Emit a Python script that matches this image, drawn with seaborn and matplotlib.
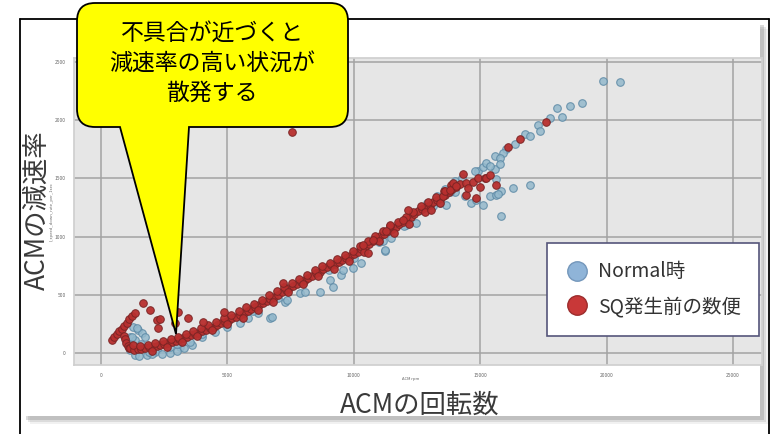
import numpy as np
import pandas as pd
import matplotlib
matplotlib.use('Agg')
import matplotlib.pyplot as plt
import seaborn as sns
from matplotlib.patches import Rectangle, PathPatch
from matplotlib.path import Path
from matplotlib.lines import Line2D

sns.set_theme(style='darkgrid')
plt.rcParams['font.family'] = ['Noto Sans CJK JP', 'DejaVu Sans']

##################################################################
#### data
##################################################################
normal_label = 'Normal時'
sq_label = 'SQ発生前の数便'

normal_x = [1280, 1470, 1610, 1740, 1150, 1340, 1150, 1340, 2200, 2730, 3120, 1410, 1210, 2130, 2730,
            1500, 1800, 2000, 2400, 3000, 3300, 3600, 1600, 1250, 1900,
            3500, 4000, 4500, 5000, 5500, 5800, 6200, 6680, 6750, 7270, 7340, 7870, 8060, 8660, 9050,
            9180, 9510, 9580, 9970, 10300, 11230, 11160, 11490, 12080, 12480, 13140, 13400, 13660,
            3000, 4000, 5000, 6000, 7000, 8000, 9000, 10000, 11000, 12000, 13000, 14000,
            12600, 12900, 13300, 13600, 14000, 14300, 13800, 14900, 15100,
            14650, 14850, 15110, 15380, 15640, 15250, 15570, 19840, 20540, 19040, 18540, 18040, 18220,
            17750, 17280, 17350, 16760, 16960, 16360, 16030, 15900, 15570, 15770, 15380, 15770, 14780,
            15640, 15840, 15700, 16300, 16960, 15840, 14390, 11230]
normal_y = [221, 198, 170, 141, 141, 112, 26, -17, 26, -3, 54, 212, 141, 11, 54,
            -25, -20, -10, -5, 20, 45, 70, 80, 60, 10,
            95, 140, 180, 220, 260, 300, 340, 299, 313, 442, 457, 515, 528, 528, 629,
            571, 672, 715, 730, 772, 873, 959, 988, 1103, 1118, 1261, 1290, 1276,
            80, 160, 250, 360, 470, 600, 710, 820, 950, 1090, 1240, 1380,
            1230, 1290, 1350, 1410, 1480, 1500, 1380, 1560, 1600,
            1290, 1319, 1276, 1347, 1362, 1635, 1578, 2336, 2325, 2152, 2123, 2109, 2031,
            2020, 1957, 1908, 1879, 1865, 1793, 1750, 1721, 1692, 1678, 1606, 1621, 1563,
            1497, 1390, 1370, 1420, 1442, 1175, 1347, 882]

sq_x = [420, 520, 620, 720, 820, 920, 1020, 1120, 1220, 1330,
        900, 950, 1000, 1050, 1100,
        1150, 1300, 1450, 1600, 1750, 1900, 2050, 2200, 2350, 2500, 2650, 2800, 2950, 3100, 3250,
        3400, 3550, 3700, 3850, 4000, 4150, 4300, 4450, 4600, 4750, 4900, 5050, 5200, 5350, 5500,
        5650, 5800, 5950, 6100, 6250, 6400, 6550, 6700, 6850, 7000, 7150, 7300, 7450, 7600, 7750,
        7900, 8050, 8200, 8350, 8500, 8650, 8800, 8950, 9100, 9250, 9400, 9550, 9700, 9850, 10000,
        10150, 10300, 10450, 10600, 10750, 10900, 11050, 11200, 11350, 11500, 11650, 11800, 11950,
        12100, 12250, 12400, 12550, 12700, 12850, 13000, 13150, 13300, 13450, 13600, 13750, 13900,
        14050, 14200,
        1250, 1550, 1850, 2150, 2450, 2750, 3050, 3350, 3650, 3950, 4250, 4550, 4850, 5150, 5450,
        5750, 6050, 6350, 6650, 6950, 7250, 7550, 7850, 8150, 8450, 8750, 9050, 9350, 9650, 9950,
        10250, 10550, 10850, 11150, 11450, 11750, 12050, 12350, 12650, 12950, 13250, 13550, 13850,
        2000, 2600, 3200, 3800, 4400, 5000, 5600, 6200, 6800, 7400, 8000, 8600, 9200, 9800, 10400,
        11000, 11600, 12200, 12800, 13400,
        1670, 1950, 2200, 2270, 2330, 2920, 3050, 3450, 4040, 4870, 7200, 7560,
        13070, 13530, 13600, 13800, 13930, 14060, 14320, 14450, 14450, 14500, 14700, 14850, 14900,
        15000, 15180, 15250, 15400, 15640, 16100, 16590, 17620, 12150, 11950, 11420, 11290, 10760,
        10370, 10570]
sq_y = [110, 135, 160, 185, 210, 235, 262, 290, 315, 340,
        150, 120, 90, 60, 40,
        40, 30, 35, 38, 42, 48, 52, 58, 66, 75, 85, 96, 106, 118, 128,
        140, 152, 164, 176, 188, 200, 214, 226, 240, 254, 268, 282, 298, 313, 330,
        346, 362, 380, 396, 412, 430, 448, 466, 484, 500, 520, 540, 558, 575, 595,
        612, 630, 648, 665, 684, 700, 718, 735, 752, 765, 780, 797, 815, 832, 850,
        872, 895, 915, 938, 960, 985, 1005, 1025, 1045, 1065, 1085, 1108, 1130,
        1150, 1172, 1195, 1218, 1238, 1258, 1275, 1295, 1315, 1335, 1360, 1385, 1410,
        1430, 1450,
        70, 62, 72, 82, 100, 120, 140, 165, 192, 215, 242, 268, 300, 328, 360,
        392, 425, 458, 495, 530, 565, 600, 640, 670, 710, 745, 775, 808, 840, 880,
        920, 962, 1005, 1045, 1090, 1130, 1172, 1215, 1260, 1300, 1340, 1390, 1440,
        20, 50, 95, 150, 200, 250, 305, 370, 440, 520, 590, 660, 720, 790, 870,
        960, 1030, 1105, 1210, 1290,
        430, 372, 284, 213, 290, 261, 356, 299, 270, 356, 600, 1902,
        1233, 1348, 1390, 1405, 1463, 1435, 1534, 1462, 1362, 1420, 1470, 1334, 1500,
        1430, 1506, 1506, 1530, 1448, 1773, 1836, 1985, 1233, 1147, 1103, 1046, 974,
        931, 859]

x_ticks = [0, 5000, 10000, 15000, 20000, 25000]
y_ticks = [0, 500, 1000, 1500, 2000, 2500]

df = pd.concat([pd.DataFrame({'x': normal_x, 'y': normal_y, 'group': normal_label}),
                pd.DataFrame({'x': sq_x, 'y': sq_y, 'group': sq_label})])

##################################################################
#### figure, pixel helpers
##################################################################
W, H = 779, 434
fig = plt.figure(figsize=(W / 100, H / 100), dpi=100, facecolor='white')

def fx(px):
    return px / W

def fy(py):
    return 1 - py / H

# slide frame and screenshot panel with shadow
bg = fig.add_axes([0, 0, 1, 1], zorder=0)
bg.set_xlim(0, W)
bg.set_ylim(H, 0)
bg.axis('off')
for off, a in [(6, 0.10), (4, 0.18), (2, 0.28)]:
    bg.add_patch(Rectangle((24 + off, 23 + off), 738, 395, facecolor='#7a7a7a', edgecolor='none', alpha=a))
bg.add_patch(Rectangle((22, 20), 738, 396, facecolor='white', edgecolor='none'))
bg.plot([20, 20], [19, H], color='black', lw=1.3)
bg.plot([20, 769], [19, 19], color='black', lw=1.3)
bg.plot([769, 769], [19, H], color='black', lw=1.3)

##################################################################
#### scatter
##################################################################
ax = fig.add_axes([fx(74), fy(365), fx(762 - 74), (365 - 58) / H], zorder=1)
ax.set_facecolor('#e6e6e6')
sns.scatterplot(data=df[df.group == normal_label], x='x', y='y', ax=ax, color='#94b9cc',
                edgecolor='#5d8aa6', linewidth=0.8, s=30, alpha=0.85, legend=False)
sns.scatterplot(data=df[df.group == sq_label], x='x', y='y', ax=ax, color='#b8302f',
                edgecolor='#7a2424', linewidth=0.7, s=30, alpha=0.95, legend=False)

ax.set_xlim(-1070, 26150)
ax.set_ylim(-103, 2535)
ax.set_xticks(x_ticks)
ax.set_yticks(y_ticks)
ax.grid(True, color='#a3a3a3', linewidth=1.1)
ax.tick_params(length=5, width=0.8, color='#999999', labelsize=3.5, labelcolor='#666666', pad=1)
for s in ax.spines.values():
    s.set_visible(True)
    s.set_color('#cfcfcf')
ax.set_xlabel('ACM rpm', fontsize=3, color='#666666')
ax.set_ylabel('l_speed_down_rate_per_1sec', fontsize=3, color='#666666')
ax.xaxis.set_label_coords(0.49, -0.04)
ax.yaxis.set_label_coords(-0.029, 0.5)

handles = [Line2D([], [], ls='', marker='o', markersize=14, markerfacecolor='#8fb4d8', markeredgecolor='#7497bb'),
           Line2D([], [], ls='', marker='o', markersize=14, markerfacecolor='#c83838', markeredgecolor='#9c2c2c')]
leg = ax.legend(handles, [normal_label, sq_label], loc='upper left', bbox_to_anchor=(fx(547), fy(243)),
                bbox_transform=fig.transFigure, fontsize=14, frameon=True, fancybox=False,
                borderpad=0.95, labelspacing=0.7, handletextpad=0.45, handlelength=1.2, borderaxespad=0)
leg.get_frame().set_edgecolor('#55557a')
leg.get_frame().set_linewidth(1.2)
leg.get_frame().set_facecolor('white')
leg.get_frame().set_alpha(1)
for t in leg.get_texts():
    t.set_color('#333333')

##################################################################
#### big labels and callout
##################################################################
fig.text(fx(37), fy(210), 'ACMの減速率', rotation=90, ha='center', va='center', fontsize=19, color='#3a3a3a')
fig.text(fx(420), fy(405), 'ACMの回転数', ha='center', va='center', fontsize=19, color='#3a3a3a')

top = fig.add_axes([0, 0, 1, 1], zorder=5)
top.set_xlim(0, W)
top.set_ylim(H, 0)
top.axis('off')
x0, x1, y0, y1, r = 77, 348, 3, 127, 18
verts = [(x0 + r, y0), (x1 - r, y0), (x1, y0), (x1, y0 + r), (x1, y1 - r), (x1, y1), (x1 - r, y1),
         (189, y1), (176, 334), (120, y1), (x0 + r, y1), (x0, y1), (x0, y1 - r), (x0, y0 + r),
         (x0, y0), (x0 + r, y0), (x0 + r, y0)]
codes = [Path.MOVETO, Path.LINETO, Path.CURVE3, Path.CURVE3, Path.LINETO, Path.CURVE3, Path.CURVE3,
         Path.LINETO, Path.LINETO, Path.LINETO, Path.LINETO, Path.CURVE3, Path.CURVE3, Path.LINETO,
         Path.CURVE3, Path.CURVE3, Path.CLOSEPOLY]
top.add_patch(PathPatch(Path(verts, codes), facecolor='#ffff00', edgecolor='black', lw=1.3))
for i, line in enumerate(['不具合が近づくと', '減速率の高い状況が', '散発する']):
    top.text(212, 33 + 30 * i, line, ha='center', va='center', fontsize=16.5, color='black')

plt.savefig('out.png', dpi=100)
